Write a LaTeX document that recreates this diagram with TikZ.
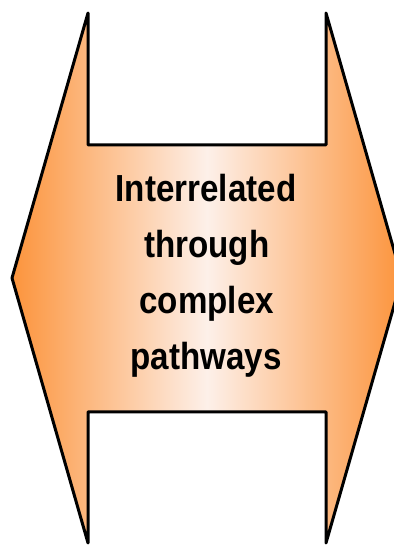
\documentclass[tikz,border=0pt]{standalone}
\usepackage{fontspec}
\usepackage{tikz}
\usetikzlibrary{positioning}
\newfontfamily\pathfont{Liberation Sans Bold}[FakeStretch=0.88]
\definecolor{pathorange}{RGB}{252,148,60}
\definecolor{pathpale}{RGB}{253,240,233}

\begin{document}
\begin{tikzpicture}
%frame
\useasboundingbox (0,0) rectangle (9.85,13.625);
\clip (0,0) rectangle (9.85,13.625);
%double arrow with notches
\draw[black, line width=0.075cm, line join=round, left color=pathorange, right color=pathorange, middle color=pathpale]
 (2.2,13.3) -- (2.2,10.0) -- (8.15,10.0) -- (8.15,13.3)
 -- (10.05,6.675)
 -- (8.15,0.05) -- (8.15,3.325) -- (2.2,3.325) -- (2.2,0.05)
 -- (0.3,6.675) -- cycle;
%text lines
\node[black, anchor=base, font=\pathfont\fontsize{26.8}{30}\selectfont](lineone) at (5.15,8.575){Interrelated};
\node[black, anchor=base, font=\pathfont\fontsize{26.8}{30}\selectfont](linetwo) at (5.17,7.175){through};
\node[black, anchor=base, font=\pathfont\fontsize{26.8}{30}\selectfont](linethree) at (5.17,5.775){complex};
\node[black, anchor=base, font=\pathfont\fontsize{26.8}{30}\selectfont](linefour) at (5.15,4.375){pathways};
\end{tikzpicture}
\end{document}
